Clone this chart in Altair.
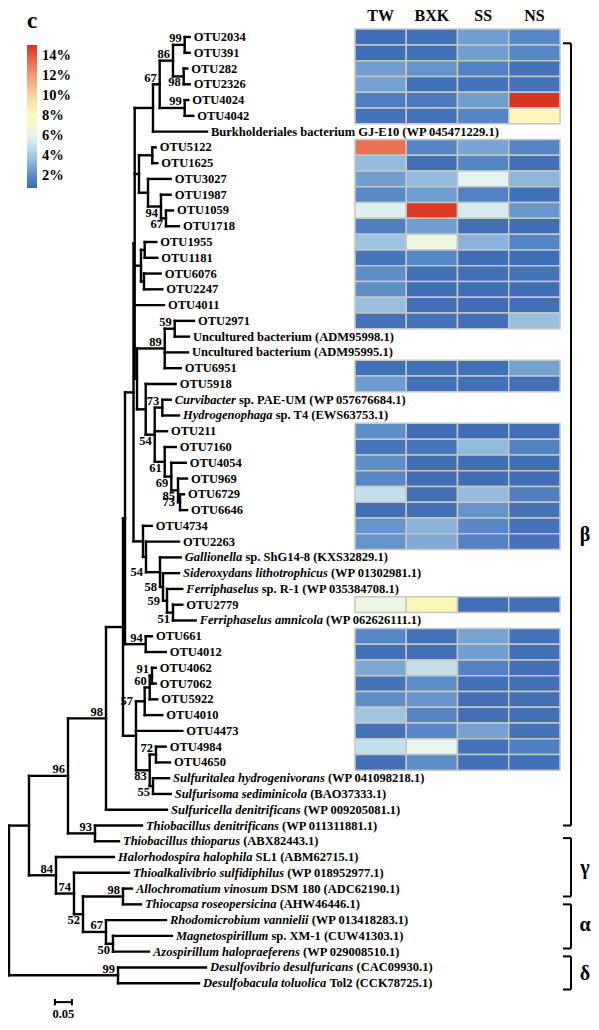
import re
import altair as alt
import pandas as pd

# ---------------- tree (Newick; branch lengths in substitutions/site; internal labels = bootstrap) ----------------
clade_beta1 = ("((((OTU2034:0.0147,OTU391:0.0147)99:0.0344,(OTU282:0.0106,OTU2326:0.0176)98:0.0315)86:0.0391,"
               "(OTU4024:0.0106,OTU4042:0.0253)99:0.0735)67:0.0197,Burk:0.1588):0.0538")
clade_beta2 = ("((OTU5122:0.0100,OTU1625:0.0147):0.0391,(OTU3027:0.0668,(OTU1987:0.0285,"
               "(OTU1059:0.0206,OTU1718:0.0382)67:0.0147)94:0.0382):0.0265):0.0126")
clade_beta3 = "((OTU1955:0.0341,OTU1181:0.0371):0.0109,(OTU6076:0.0491,OTU2247:0.0538):0.0088):0.0185"
clade_beta4 = ("(((OTU2971:0.0568,ADM98:0.0421)59:0.0294,ADM95:0.0685,OTU6951:0.0471)89:0.0815,"
               "(OTU5918:0.0882,((Curv:0.0247,Hydro:0.0491)73:0.0224,OTU211:0.0362,(OTU7160:0.0324,"
               "(OTU4054:0.0424,(OTU969:0.0265,(OTU6729:0.0118,OTU6646:0.0206)73:0.0059)85:0.0197)69:0.0194)61:0.0294)54:0.0265):0.0256):0.0068")
clade_beta5 = ("(OTU4734:0.0256,(OTU2263:0.0971,(Gall:0.0609,(Sider:0.0471,(FR1:0.0450,"
               "(OTU2779:0.0274,Famn:0.0668)51:0.0176)59:0.0118)58:0.0088)54:0.0412):0.0088):0.0279")
clade_beta6 = "(OTU661:0.0185,OTU4012:0.0588)94:0.0609"
clade_beta7 = ("((((OTU4062:0.0109,OTU7062:0.0109)91:0.0068,OTU5922:0.0224)60:0.0147,OTU4010:0.0518)57:0.0256,"
               "OTU4473:0.1362,((OTU4984:0.0285,OTU4650:0.0412)72:0.0185,(Sfta:0.0471,Sfsm:0.0521)55:0.0097)83:0.0403):0.0382")
clade_thiob = "(Tden:0.1382,Tthi:0.0706)93:0.0794"
clade_gamma_alpha = ("(Halo:0.1706,(Thal:0.1618,((Allo:0.0265,Tcap:0.0529)98:0.1176,"
                     "(Rhod:0.1765,(Magn:0.1735,Azos:0.1059)50:0.0206)67:0.0676)52:0.0265)74:0.0529)84:0.0794")
clade_delta = "(Dvib:0.2588,Dbac:0.2382)99:0.3206"

tree_newick = ("((((((((" + clade_beta1 + "," + clade_beta2 + "," + clade_beta3 + ",OTU4011:0.0862," + clade_beta4
               + "):0.0035," + clade_beta5 + "):0.0250," + clade_beta6 + "):0.0059," + clade_beta7
               + "):0.0500,Sfcl:0.1794)98:0.1118," + clade_thiob + ")96:0.1147," + clade_gamma_alpha
               + "):0.0588," + clade_delta + ");")

# side of each bootstrap label (pre-order): a = above node, b = below node, m = level, left of parent
boot_side = ['a', 'a', 'a', 'a', 'a', 'b', 'a', 'b', 'b', 'a', 'a', 'b', 'a', 'b', 'b', 'b', 'm', 'm', 'm', 'm',
             'b', 'a', 'm', 'a', 'a', 'b', 'a', 'b', 'a', 'a', 'a', 'b', 'a', 'a', 'b', 'a']

# ---------------- leaf names (italic part, roman part) ----------------
species_ids = ['Burk', 'ADM98', 'ADM95', 'Curv', 'Hydro', 'Gall', 'Sider', 'FR1', 'Famn', 'Sfta', 'Sfsm', 'Sfcl',
               'Tden', 'Tthi', 'Halo', 'Thal', 'Allo', 'Tcap', 'Rhod', 'Magn', 'Azos', 'Dvib', 'Dbac']
species_italic = ['', '', '', 'Curvibacter', 'Hydrogenophaga', 'Gallionella', 'Sideroxydans lithotrophicus',
                  'Ferriphaselus', 'Ferriphaselus amnicola', 'Sulfuritalea hydrogenivorans', 'Sulfurisoma sediminicola',
                  'Sulfuricella denitrificans', 'Thiobacillus denitrificans', 'Thiobacillus thioparus',
                  'Halorhodospira halophila', 'Thioalkalivibrio sulfidiphilus', 'Allochromatium vinosum',
                  'Thiocapsa roseopersicina', 'Rhodomicrobium vannielii', 'Magnetospirillum',
                  'Azospirillum halopraeferens', 'Desulfovibrio desulfuricans', 'Desulfobacula toluolica']
species_roman = ['Burkholderiales bacterium GJ-E10 (WP 045471229.1)', 'Uncultured bacterium (ADM95998.1)',
                 'Uncultured bacterium (ADM95995.1)', 'sp. PAE-UM (WP 057676684.1)', 'sp. T4 (EWS63753.1)',
                 'sp. ShG14-8 (KXS32829.1)', '(WP 01302981.1)', 'sp. R-1 (WP 035384708.1)', '(WP 062626111.1)',
                 '(WP 041098218.1)', '(BAO37333.1)', '(WP 009205081.1)', '(WP 011311881.1)', '(ABX82443.1)',
                 'SL1 (ABM62715.1)', '(WP 018952977.1)', 'DSM 180 (ADC62190.1)', '(AHW46446.1)',
                 '(WP 013418283.1)', 'sp. XM-1 (CUW41303.1)', '(WP 029008510.1)', '(CAC09930.1)', 'Tol2 (CCK78725.1)']

# ---------------- heatmap (relative abundance, %) ----------------
samples = ['TW', 'BXK', 'SS', 'NS']
heat_otus = ['OTU2034', 'OTU391', 'OTU282', 'OTU2326', 'OTU4024', 'OTU4042', 'OTU5122', 'OTU1625', 'OTU3027',
             'OTU1987', 'OTU1059', 'OTU1718', 'OTU1955', 'OTU1181', 'OTU6076', 'OTU2247', 'OTU4011', 'OTU2971',
             'OTU6951', 'OTU5918', 'OTU211', 'OTU7160', 'OTU4054', 'OTU969', 'OTU6729', 'OTU6646', 'OTU4734',
             'OTU2263', 'OTU2779', 'OTU661', 'OTU4012', 'OTU4062', 'OTU7062', 'OTU5922', 'OTU4010', 'OTU4473',
             'OTU4984', 'OTU4650']
val_TW = [1.0, 1.0, 2.6, 2.7, 1.6, 1.2, 13.3, 3.6, 2.6, 2.0, 5.8, 1.6, 3.8, 1.3, 2.1, 2.1, 3.7, 1.2, 1.1,
          2.5, 2.1, 1.3, 2.1, 1.9, 5.0, 1.1, 2.3, 2.3, 6.6, 1.9, 1.1, 2.9, 1.2, 2.1, 3.9, 1.2, 5.0, 1.1]
val_BXK = [1.1, 1.1, 2.3, 1.1, 1.5, 1.2, 1.8, 1.1, 3.6, 2.6, 14.8, 2.6, 6.6, 1.9, 1.1, 1.0, 1.1, 1.2, 1.1,
           1.1, 1.0, 1.3, 1.0, 1.0, 1.1, 1.1, 3.3, 3.0, 8.3, 1.2, 1.1, 5.0, 2.1, 2.3, 1.8, 1.9, 6.3, 2.1]
val_SS = [2.6, 2.6, 1.7, 1.2, 2.6, 1.8, 2.8, 1.8, 6.0, 1.7, 5.6, 1.1, 3.3, 1.0, 1.1, 1.0, 1.0, 1.1, 1.1,
          1.1, 1.0, 3.5, 1.0, 1.0, 3.6, 2.3, 1.9, 1.7, 1.1, 2.8, 2.6, 1.7, 1.1, 1.1, 1.1, 2.7, 1.2, 1.1]
val_NS = [1.9, 1.9, 1.2, 1.2, 15.0, 8.3, 1.8, 1.1, 3.4, 1.1, 2.4, 1.0, 1.8, 1.0, 1.2, 1.0, 1.1, 3.7, 2.7,
          1.1, 1.1, 1.7, 1.0, 1.0, 1.6, 1.2, 1.2, 1.2, 1.1, 1.2, 1.1, 1.1, 1.1, 1.1, 1.1, 1.2, 1.6, 1.1]

color_stops = [0.8, 2, 4, 6, 8, 10, 12, 14, 15.1]
color_values = ['#3a67b2', '#5a8bc7', '#a3c9e2', '#e6f4f1', '#fdfbbd', '#f6d7a0', '#f19c76', '#e25a3e', '#d7301f']
legend_ticks = [2, 4, 6, 8, 10, 12, 14]

# ---------------- taxonomic groups (bracket extents and label rows, in leaf-row units) ----------------
group_names = ['β', 'γ', 'α', 'δ']
group_top = [0.4, 50.8, 55.0, 58.3]
group_bottom = [50.0, 54.5, 57.8, 60.4]
group_label_row = [31.6, 52.7, 56.3, 59.4]

scale_bar_length = 0.05

# ================= build layout =================
def parse_newick(s):
    s = re.sub(r'\s+', '', s)
    pos = 0

    def node():
        nonlocal pos
        n = {'children': [], 'name': '', 'bl': 0.0}
        if s[pos] == '(':
            pos += 1
            while True:
                n['children'].append(node())
                if s[pos] == ',':
                    pos += 1
                    continue
                pos += 1  # ')'
                break
        m = re.match(r'[^:,();]*', s[pos:])
        n['name'] = m.group(0)
        pos += len(n['name'])
        if pos < len(s) and s[pos] == ':':
            pos += 1
            m = re.match(r'[0-9.eE+-]+', s[pos:])
            n['bl'] = float(m.group(0))
            pos += len(m.group(0))
        return n
    return node()


root = parse_newick(tree_newick)
leaves = []


def layout(n, x, parent):
    n['x'] = x
    n['parent'] = parent
    if not n['children']:
        n['y'] = len(leaves)
        leaves.append(n)
    else:
        for c in n['children']:
            layout(c, x + c['bl'], n)
        n['y'] = (n['children'][0]['y'] + n['children'][-1]['y']) / 2.0


layout(root, 0.0, None)
row_of = {lf['name']: lf['y'] for lf in leaves}

segs, boots = [], []


def walk(n):
    if n['parent'] is not None:
        segs.append({'x1': n['parent']['x'], 'x2': n['x'], 'y1': n['y'], 'y2': n['y']})
    if n['children']:
        segs.append({'x1': n['x'], 'x2': n['x'], 'y1': n['children'][0]['y'], 'y2': n['children'][-1]['y']})
        if n['name']:
            boots.append(n)
        for c in n['children']:
            walk(c)


walk(root)
seg_df = pd.DataFrame(segs)

boot_rows = []
for n, side in zip(boots, boot_side):
    if side == 'm':
        bx, by = n['parent']['x'], n['y']
    elif side == 'a':
        bx, by = n['x'], n['y'] - 0.41
    else:
        bx, by = n['x'], n['y'] + 0.38
    boot_rows.append({'x': bx, 'y': by, 'label': n['name']})
boot_df = pd.DataFrame(boot_rows)

# text widths (Times bold italic metrics, 1/1000 em)
BI = dict(zip('abcdefghijklmnopqrstuvwxyz',
              [500, 500, 444, 500, 444, 333, 500, 556, 278, 278, 500, 278, 778, 556, 500, 500, 500, 389, 389, 278,
               556, 444, 667, 500, 444, 389]))
BI.update({' ': 250, 'A': 667, 'C': 667, 'D': 722, 'F': 667, 'G': 722, 'H': 778, 'M': 889, 'R': 667, 'S': 556,
           'T': 611})
FS = 12.5
PX_PER_UNIT = 340.0
spec_it = dict(zip(species_ids, species_italic))
spec_rm = dict(zip(species_ids, species_roman))
leaf_rows = []
for lf in leaves:
    name = lf['name']
    it = spec_it.get(name, '')
    rm = spec_rm.get(name, name)
    w_it = sum(BI.get(ch, 500) for ch in it) * FS / 1000.0
    x_rm = lf['x'] + ((w_it + 0.25 * FS) / PX_PER_UNIT if it else 0.0)
    leaf_rows.append({'x': lf['x'], 'x_rm': x_rm, 'y': lf['y'], 'it': it, 'rm': rm})
leaf_df = pd.DataFrame(leaf_rows)

heat_rows = []
for i, otu in enumerate(heat_otus):
    for s, vals in zip(samples, [val_TW, val_BXK, val_SS, val_NS]):
        heat_rows.append({'otu': otu, 'sample': s, 'value': vals[i],
                          'y0': row_of[otu] - 0.5, 'y1': row_of[otu] + 0.5})
heat_df = pd.DataFrame(heat_rows)
head_df = pd.DataFrame({'sample': samples})

grp_df = pd.DataFrame({'g': group_names, 'top': group_top, 'bot': group_bottom, 'mid': group_label_row})

n_rows = len(leaves)
sb_df = pd.DataFrame({'x0': [0.135], 'x1': [0.135 + scale_bar_length], 'y': [n_rows + 0.2],
                      'ya': [n_rows + 0.0], 'yb': [n_rows + 0.4], 'yt': [n_rows + 0.95],
                      'xm': [0.135 + scale_bar_length / 2], 't': [f'{scale_bar_length:.2f}']})

# ================= chart =================
FONT = 'Liberation Serif'
XT = alt.Scale(domain=[0, 1], range=[1, 1 + PX_PER_UNIT])
YR = alt.Scale(domain=[0, n_rows - 1], range=[29, 29 + 15.77 * (n_rows - 1)])
XH = alt.Scale(domain=samples, range=[347, 552], paddingInner=0, paddingOuter=0)

branches = alt.Chart(seg_df).mark_rule(color='black', strokeWidth=2.4, strokeCap='square').encode(
    x=alt.X('x1:Q', scale=XT, axis=None), x2='x2:Q',
    y=alt.Y('y1:Q', scale=YR, axis=None), y2='y2:Q')

boot_txt = alt.Chart(boot_df).mark_text(align='right', baseline='middle', dx=-3, font=FONT, fontSize=FS,
                                        fontWeight='bold', color='black').encode(
    x=alt.X('x:Q', scale=XT, axis=None), y=alt.Y('y:Q', scale=YR, axis=None), text='label:N')

leaf_it = alt.Chart(leaf_df).mark_text(align='left', baseline='middle', dx=4, font=FONT, fontSize=FS,
                                       fontWeight='bold', fontStyle='italic', color='black').encode(
    x=alt.X('x:Q', scale=XT, axis=None), y=alt.Y('y:Q', scale=YR, axis=None), text='it:N')

leaf_rm = alt.Chart(leaf_df).mark_text(align='left', baseline='middle', dx=4, font=FONT, fontSize=FS,
                                       fontWeight='bold', color='black').encode(
    x=alt.X('x_rm:Q', scale=XT, axis=None), y=alt.Y('y:Q', scale=YR, axis=None), text='rm:N')

heat = alt.Chart(heat_df).mark_rect(stroke='#c6c6c6', strokeWidth=1.5).encode(
    x=alt.X('sample:N', scale=XH, axis=None, sort=samples),
    y=alt.Y('y0:Q', scale=YR, axis=None), y2='y1:Q',
    color=alt.Color('value:Q', title=None,
                    scale=alt.Scale(domain=color_stops, range=color_values, interpolate='rgb'),
                    legend=alt.Legend(orient='none', legendX=19, legendY=37, direction='vertical',
                                      gradientLength=143, gradientThickness=10, gradientStrokeWidth=0,
                                      values=legend_ticks, labelExpr="datum.value + '%'", labelFont=FONT,
                                      labelFontSize=14.5, labelFontWeight='bold', labelColor='black',
                                      labelOffset=5, labelOverlap=False)))

header = alt.Chart(head_df).mark_text(baseline='alphabetic', font=FONT, fontSize=16, fontWeight='bold',
                                      color='black').encode(
    x=alt.X('sample:N', scale=XH, axis=None, sort=samples), y=alt.value(13), text='sample:N')

br_v = alt.Chart(grp_df).mark_rule(color='black', strokeWidth=2).encode(
    x=alt.value(563), y=alt.Y('top:Q', scale=YR, axis=None), y2='bot:Q')
br_t = alt.Chart(grp_df).mark_rule(color='black', strokeWidth=2).encode(
    x=alt.value(555), x2=alt.value(563), y=alt.Y('top:Q', scale=YR, axis=None))
br_b = alt.Chart(grp_df).mark_rule(color='black', strokeWidth=2).encode(
    x=alt.value(555), x2=alt.value(563), y=alt.Y('bot:Q', scale=YR, axis=None))
br_l = alt.Chart(grp_df).mark_text(align='center', baseline='middle', font=FONT, fontSize=20,
                                   fontWeight='bold', color='black').encode(
    x=alt.value(577), y=alt.Y('mid:Q', scale=YR, axis=None), text='g:N')

sb_line = alt.Chart(sb_df).mark_rule(color='black', strokeWidth=2).encode(
    x=alt.X('x0:Q', scale=XT, axis=None), x2='x1:Q', y=alt.Y('y:Q', scale=YR, axis=None))
sb_t0 = alt.Chart(sb_df).mark_rule(color='black', strokeWidth=2).encode(
    x=alt.X('x0:Q', scale=XT, axis=None), y=alt.Y('ya:Q', scale=YR, axis=None), y2='yb:Q')
sb_t1 = alt.Chart(sb_df).mark_rule(color='black', strokeWidth=2).encode(
    x=alt.X('x1:Q', scale=XT, axis=None), y=alt.Y('ya:Q', scale=YR, axis=None), y2='yb:Q')
sb_txt = alt.Chart(sb_df).mark_text(baseline='middle', font=FONT, fontSize=12.5, fontWeight='bold',
                                    color='black').encode(
    x=alt.X('xm:Q', scale=XT, axis=None), y=alt.Y('yt:Q', scale=YR, axis=None), text='t:N')

panel = alt.Chart(pd.DataFrame({'t': ['c']})).mark_text(align='center', baseline='alphabetic', font=FONT,
                                                       fontSize=23, fontWeight='bold', color='black').encode(
    x=alt.value(24), y=alt.value(19.5), text='t:N')

chart = alt.layer(
    heat, header, branches, boot_txt, leaf_it, leaf_rm, br_v, br_t, br_b, br_l,
    sb_line, sb_t0, sb_t1, sb_txt, panel
).resolve_scale(x='independent').properties(
    width=583, height=1014, padding=0, autosize=alt.AutoSizeParams(type='none'), background='white'
).configure_view(stroke=None)

chart.save("out.html", embed_options={"renderer": "svg", "actions": False})
